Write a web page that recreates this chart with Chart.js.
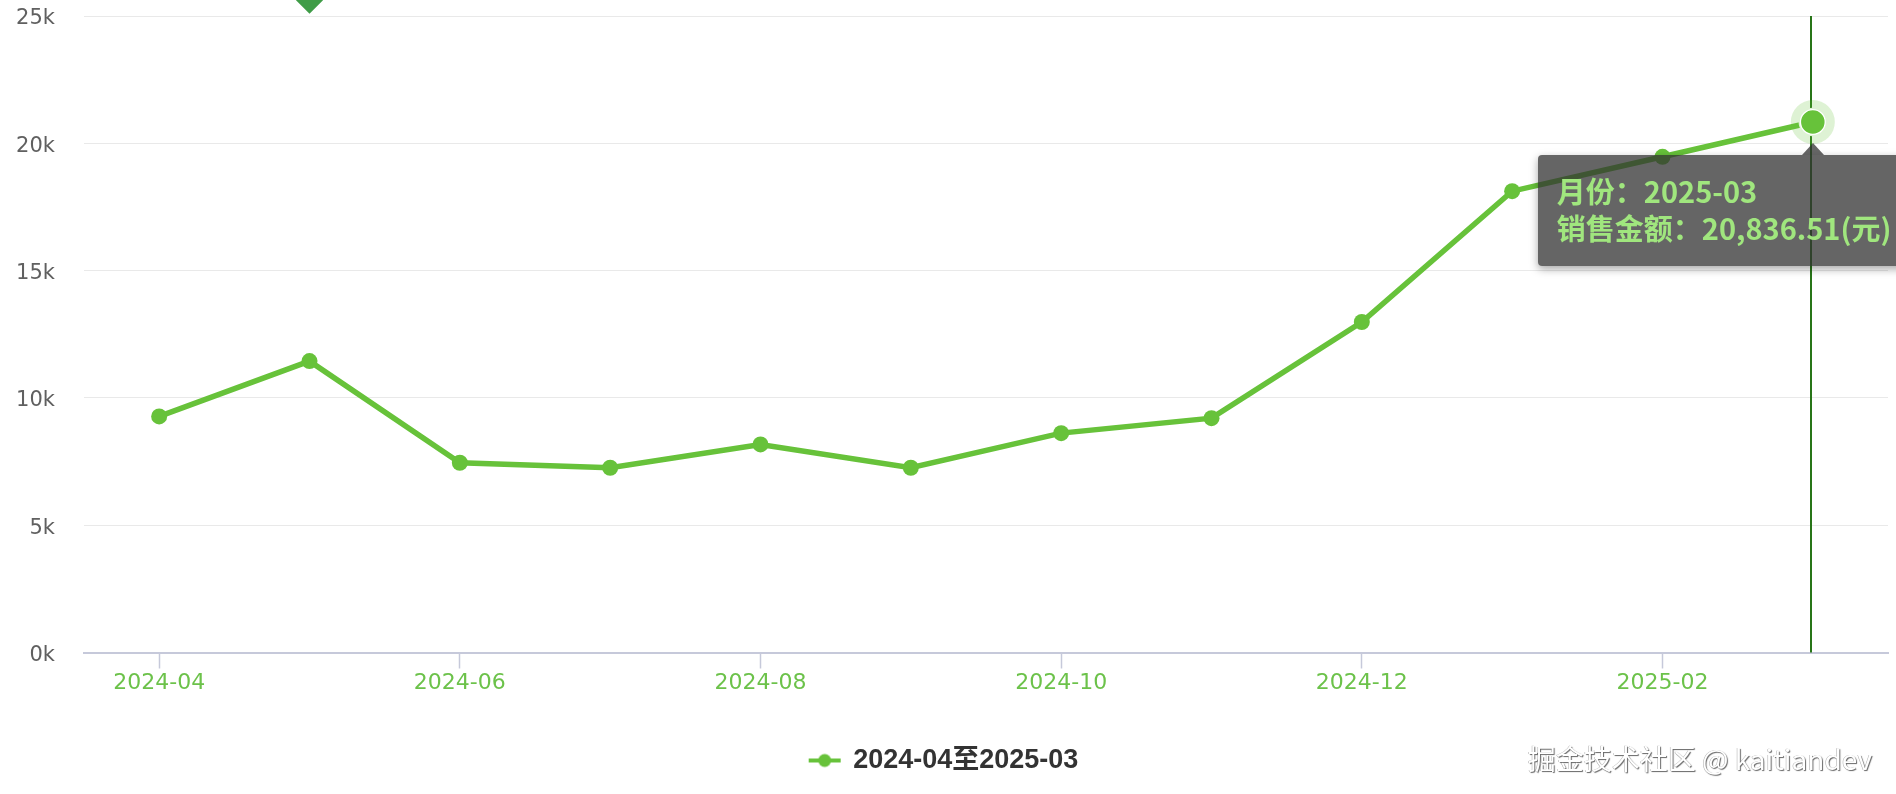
<!DOCTYPE html>
<html>
<head>
<meta charset="utf-8">
<script src="https://cdn.jsdelivr.net/npm/chart.js@4.4.1/dist/chart.umd.min.js"></script>
<style>
html,body{margin:0;padding:0;width:1896px;height:794px;overflow:hidden;background:#fff;}
#wrap{position:relative;width:1896px;height:794px;overflow:hidden;}
#c{position:absolute;left:0;top:0;}
#tip{position:absolute;display:none;background:rgba(50,50,50,0.75);border-radius:4px;
  box-shadow:0 3px 8px rgba(0,0,0,0.35);padding:17px 19px 20px 19px;white-space:nowrap;
  font-family:"Noto Sans CJK SC",sans-serif;font-weight:bold;font-size:29px;line-height:37px;color:#a0e67e;pointer-events:none;}
#tip .caret{position:absolute;top:-12px;width:0;height:0;border-left:11px solid transparent;border-right:11px solid transparent;border-bottom:12px solid rgba(50,50,50,0.75);}
#wm{position:absolute;right:24px;top:739px;font-family:"Noto Sans CJK SC",sans-serif;font-size:28px;line-height:38px;color:#fff;
  text-shadow:1px 1px 1px rgba(0,0,0,0.6),-0.5px -0.5px 0.5px rgba(0,0,0,0.35);}
</style>
</head>
<body>
<div id="wrap">
<canvas id="c" width="1896" height="794"></canvas>
<div id="tip"></div>
<div id="wm">掘金技术社区 @ kaitiandev</div>
</div>
<script>
// ---- data ----
const months = ['2024-04','2024-05','2024-06','2024-07','2024-08','2024-09','2024-10','2024-11','2024-12','2025-01','2025-02','2025-03'];
const sales = [9272, 11445, 7453, 7256, 8172, 7256, 8616, 9205, 12981, 18120, 19470, 20836.51];
const yTickValues = [0, 5000, 10000, 15000, 20000, 25000];
const yMin = 0, yMax = 25000;
const seriesName = months[0] + '至' + months[months.length - 1];
const tipLabels = ['月份：', '销售金额：'];
const unit = '(元)';
const markIndex = 1;          // category of the diamond mark
const markValue = 25620;      // mark sits just above the top of the axis
const activeIndex = 11;       // tooltip shown for 2025-03

const green = '#67C23A';

const icon = document.createElement('canvas');
icon.width = 34; icon.height = 16;
(function(){
  const g = icon.getContext('2d');
  g.strokeStyle = green; g.lineWidth = 4;
  g.beginPath(); g.moveTo(1, 8); g.lineTo(33, 8); g.stroke();
  g.fillStyle = green; g.beginPath(); g.arc(17, 8, 6.5, 0, Math.PI * 2); g.fill();
})();

const fmt = v => v.toLocaleString('en-US', {minimumFractionDigits: 2, maximumFractionDigits: 2});

const pointerPlugin = {
  id: 'pointer',
  beforeDatasetsDraw(chart) {
    const act = chart.getActiveElements().filter(a => a.datasetIndex === 0);
    const ctx = chart.ctx, area = chart.chartArea;
    act.forEach(a => {
      const el = a.element;
      ctx.save();
      ctx.strokeStyle = '#287518';
      ctx.lineWidth = 2;
      ctx.beginPath();
      ctx.moveTo(Math.round(el.x) - 2, area.top);
      ctx.lineTo(Math.round(el.x) - 2, area.bottom);
      ctx.stroke();
      ctx.restore();
    });
  },
  afterDatasetsDraw(chart) {
    const act = chart.getActiveElements().filter(a => a.datasetIndex === 0);
    const ctx = chart.ctx;
    act.forEach(a => {
      const el = a.element;
      ctx.save();
      ctx.fillStyle = 'rgba(103,194,58,0.22)';
      ctx.beginPath();
      ctx.arc(el.x, el.y, 22, 0, Math.PI * 2);
      ctx.arc(el.x, el.y, 13, 0, Math.PI * 2, true);
      ctx.fill();
      ctx.restore();
    });
  }
};

function externalTip(context) {
  const t = context.tooltip;
  const el = document.getElementById('tip');
  if (t.opacity === 0 || !t.dataPoints || !t.dataPoints.length) { el.style.display = 'none'; return; }
  const dp = t.dataPoints[0];
  el.innerHTML = '<div>' + tipLabels[0] + dp.label + '</div><div>' + tipLabels[1] + fmt(dp.raw) + unit + '</div>' +
    '<span class="caret" style="left:' + (275 - 11) + 'px"></span>';
  el.style.display = 'block';
  el.style.left = (t.caretX - 275) + 'px';
  el.style.top = (t.caretY + 33) + 'px';
}

const chart = new Chart(document.getElementById('c'), {
  type: 'line',
  data: {
    labels: months,
    datasets: [{
      label: seriesName,
      data: sales,
      borderColor: green,
      backgroundColor: green,
      borderWidth: 5.5,
      tension: 0,
      pointStyle: 'circle',
      pointRadius: 8,
      pointBorderWidth: 0,
      pointBackgroundColor: green,
      pointHoverRadius: 13,
      pointHoverBorderWidth: 2.5,
      pointHoverBorderColor: '#ffffff',
      pointHoverBackgroundColor: green
    }, {
      label: 'mark',
      data: months.map((m, i) => i === markIndex ? markValue : null),
      showLine: false,
      clip: false,
      pointStyle: 'rectRot',
      pointRadius: 13.5,
      pointHoverRadius: 17,
      pointBorderWidth: 0,
      pointHoverBorderWidth: 0,
      pointBackgroundColor: '#3f9c47',
      pointHoverBackgroundColor: '#3f9c47',
      backgroundColor: '#3f9c47',
      borderColor: '#3f9c47'
    }]
  },
  options: {
    responsive: false,
    animation: false,
    devicePixelRatio: 1,
    layout: { autoPadding: false, padding: { left: 0, right: 8, top: 16, bottom: 10 } },
    interaction: { mode: 'index', intersect: false },
    scales: {
      x: {
        type: 'category',
        offset: true,
        grid: {
          display: true,
          drawOnChartArea: false,
          drawTicks: true,
          offset: false,
          tickLength: 16,
          tickWidth: 1.5,
          tickColor: ctx => (ctx.index % 2 === 0 ? '#c6c9da' : 'rgba(0,0,0,0)')
        },
        border: { display: true, color: '#c6c9da', width: 2 },
        ticks: {
          autoSkip: false,
          maxRotation: 0,
          padding: 2,
          color: '#6cc24a',
          font: { family: '"DejaVu Sans", Verdana, sans-serif', size: 22 },
          callback: function(v, i) { return i % 2 === 0 ? this.getLabelForValue(v) : ''; }
        },
        afterFit: s => { s.height = 84.5; s.paddingLeft = 0; s.paddingRight = 0; }
      },
      y: {
        min: yMin,
        max: yMax,
        bounds: 'data',
        afterBuildTicks: s => { s.ticks = yTickValues.map(v => ({ value: v })); s.min = yMin; s.max = yMax; },
        grid: { color: '#e9e9e9', lineWidth: 1, drawTicks: false },
        border: { display: false },
        ticks: {
          padding: 29,
          labelOffset: 3,
          color: '#606060',
          font: { family: '"DejaVu Sans", Verdana, sans-serif', size: 21 },
          callback: v => (v / 1000) + 'k'
        },
        afterFit: s => { s.width = 84; s.paddingTop = 0; s.paddingBottom = 0; }
      }
    },
    plugins: {
      legend: {
        position: 'bottom',
        labels: {
          usePointStyle: true,
          pointStyleWidth: 30,
          padding: 10,
          color: '#333333',
          font: { family: '"Liberation Sans", "Noto Sans CJK SC", sans-serif', size: 27, weight: 'bold' },
          generateLabels: chart => [{
            text: seriesName, datasetIndex: 0, pointStyle: icon, fillStyle: green, strokeStyle: green,
            lineWidth: 0, hidden: false, fontColor: '#333333'
          }]
        }
      },
      tooltip: {
        enabled: false,
        external: externalTip,
        filter: item => item.datasetIndex === 0
      }
    }
  },
  plugins: [pointerPlugin]
});

const meta = chart.getDatasetMeta(0);
const pt = meta.data[activeIndex];
chart.setActiveElements([{ datasetIndex: 0, index: activeIndex }]);
chart.tooltip.setActiveElements([{ datasetIndex: 0, index: activeIndex }], { x: pt.x, y: pt.y });
chart.update();
</script>
</body>
</html>
